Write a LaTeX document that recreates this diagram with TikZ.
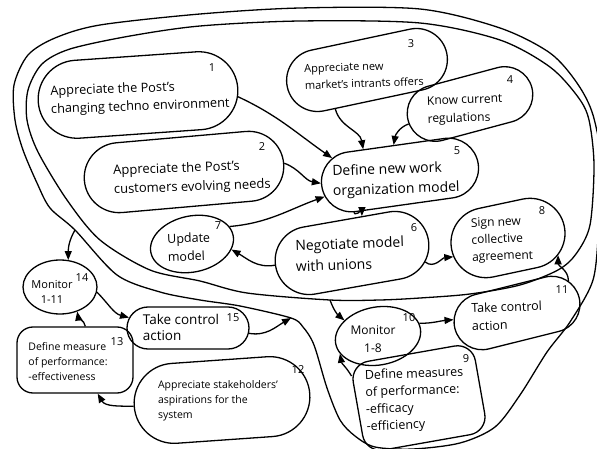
\documentclass[tikz,border=0pt]{standalone}
\usepackage{fontspec}
\setmainfont{Open Sans}
\usetikzlibrary{shapes.geometric,shapes.misc,arrows.meta}
\begin{document}
\begin{tikzpicture}[x=1pt,y=1pt,
  pill/.style={draw, line width=1.3pt, rounded rectangle, inner sep=0pt},
  egg/.style={draw, line width=1.3pt, ellipse, inner sep=0pt},
  boxy/.style={draw, line width=1.3pt, rectangle, rounded corners=18pt, inner sep=0pt},
  txt/.style={align=left, inner sep=0pt},
  num/.style={inner sep=0pt, font=\fontsize{11}{11}\selectfont},
  arr/.style={line width=1.3pt, -{Triangle[length=9pt,width=7pt]}},
  loopline/.style={line width=1.3pt},
]
\useasboundingbox (0,0) rectangle (597,-449);
\clip (0,0) rectangle (597,-449);
\fill[white] (0,0) rectangle (597,-449);

% loops
\coordinate (outA) at (75,-230);
\coordinate (outC) at (291,-318);
\coordinate (inB) at (330,-300);
\draw[loopline] plot[smooth cycle] coordinates {(14,-85) (28,-55) (55,-38) (100,-25) (200,-14) (300,-8) (420,-9) (500,-28) (550,-53) (577,-83) (593,-115) (603,-170) (599,-225) (593,-280) (570,-322) (547,-352) (520,-395) (495,-427) (460,-443) (413,-449) (375,-447) (355,-436) (340,-420) (327,-388) (314,-345) (303,-327) (291,-318) (240,-306) (200,-300) (160,-292) (117,-275) (75,-230) (50,-208) (37,-183) (23,-150) (15,-120)};
\draw[loopline] plot[smooth cycle] coordinates {(27,-120) (28,-90) (42,-64) (70,-49) (130,-36) (200,-26) (300,-21) (420,-23) (500,-40) (550,-67) (578,-97) (589,-120) (594,-165) (590,-225) (576,-254) (558,-270) (520,-285) (470,-294) (420,-298) (380,-300) (330,-300) (247,-293) (200,-281) (150,-270) (100,-240) (67,-200) (38,-152)};

% shapes
\node[pill, minimum width=200pt, minimum height=78pt, rotate=4] (n1) at (138,-95) {};
\node[pill, minimum width=200pt, minimum height=70pt, rotate=5] (n2) at (184,-172) {};
\node[pill, minimum width=163pt, minimum height=62pt, rotate=12] (n3) at (367,-70) {};
\node[pill, minimum width=128pt, minimum height=56pt, rotate=15] (n4) at (470,-104) {};
\node[pill, minimum width=158pt, minimum height=60pt, rotate=8] (n5) at (400,-175) {};
\node[pill, minimum width=155pt, minimum height=68pt, rotate=10] (n6) at (352,-253) {};
\node[egg, minimum width=84pt, minimum height=56pt, rotate=12] (n7) at (192,-244) {};
\node[pill, minimum width=115pt, minimum height=70pt, rotate=12] (n8) at (508,-238) {};
\node[boxy, minimum width=124pt, minimum height=90pt, rotate=10] (n9) at (419,-398) {};
\node[egg, minimum width=86pt, minimum height=58pt, rotate=10] (n10) at (378,-336) {};
\node[pill, minimum width=128pt, minimum height=56pt, rotate=14] (n11) at (517,-313) {};
\node[pill, minimum width=176pt, minimum height=80pt, rotate=4] (n12) at (222,-400) {};
\node[boxy, rounded corners=16pt, minimum width=116pt, minimum height=66pt] (n13) at (75,-360) {};
\node[egg, minimum width=74pt, minimum height=54pt] (n14) at (60,-287) {};
\node[pill, minimum width=122pt, minimum height=42pt] (n15) at (188,-328) {};

% texts
\node[txt, rotate=2, font=\fontsize{12.8}{18}\selectfont] (t1) at (140,-98) {Appreciate the Post's\\changing techno environment};
\node[txt, rotate=2, font=\fontsize{13}{19}\selectfont] (t2) at (192,-178) {Appreciate the Post's\\customers evolving needs};
\node[txt, rotate=2, font=\fontsize{11}{17}\selectfont] (t3) at (364,-75) {Appreciate new\\market's intrants offers};
\node[txt, rotate=2, font=\fontsize{12}{18}\selectfont] (t4) at (465,-110) {Know current\\regulations};
\node[txt, rotate=2, font=\fontsize{14}{20}\selectfont] (t5) at (396,-180) {Define new work\\organization model};
\node[txt, rotate=2, font=\fontsize{14}{21}\selectfont] (t6) at (350,-254) {Negotiate model\\with unions};
\node[txt, rotate=2, font=\fontsize{12.5}{18}\selectfont] (t7) at (189,-247) {Update\\model};
\node[txt, rotate=2, font=\fontsize{12}{17}\selectfont] (t8) at (502,-240) {Sign new\\collective\\agreement};
\node[txt, rotate=2, font=\fontsize{12.5}{17}\selectfont] (t9) at (415,-400) {Define measures\\of performance:\\-efficacy\\-efficiency};
\node[align=center, inner sep=0pt, font=\fontsize{12}{18}\selectfont] (t10) at (373,-339) {Monitor\\1-8};
\node[txt, rotate=2, font=\fontsize{12.5}{18}\selectfont] (t11) at (507,-316) {Take control\\action};
\node[txt, font=\fontsize{10.5}{15}\selectfont] (t12) at (218,-401) {Appreciate stakeholders'\\aspirations for the\\system};
\node[txt, font=\fontsize{10.5}{15}\selectfont] (t13) at (68,-362) {Define measure\\of performance:\\-effectiveness};
\node[align=center, inner sep=0pt, font=\fontsize{11}{15}\selectfont] (t14) at (52,-292) {Monitor\\1-11};
\node[txt, font=\fontsize{13.5}{16}\selectfont] (t15) at (181,-327) {Take control\\action};

% numbers
\node[num] (m1) at (212,-68) {1};
\node[num] (m2) at (262,-147) {2};
\node[num] (m3) at (411,-44) {3};
\node[num] (m4) at (510,-80) {4};
\node[num] (m5) at (457,-151) {5};
\node[num] (m6) at (414,-228) {6};
\node[num] (m7) at (218,-226) {7};
\node[num] (m8) at (542,-211) {8};
\node[num] (m9) at (466,-359) {9};
\node[num] (m10) at (409,-318) {10};
\node[num] (m11) at (562,-290) {11};
\node[num] (m12) at (298,-370) {12};
\node[num] (m13) at (117,-342) {13};
\node[num] (m14) at (82,-278) {14};
\node[num] (m15) at (233,-318) {15};

% connectors
\draw[arr] (n1.-5) to[out=-25,in=145] (n5.158);
\draw[arr] (n2.0) to[out=-20,in=170] (n5.178);
\draw[arr] (n7.13) to[out=5,in=200] (n5.188);
\draw[arr] (n3.219) to[out=-75,in=100] (n5.137);
\draw[arr] (n4.183) to[out=200,in=80] (n5.94);
\draw[arr] (n5.211) to[out=-90,in=90] (n6.65);
\draw[arr] (n6.179) to[out=190,in=-30] (n7.-20);
\draw[arr] (n6.-17.5) to[out=-40,in=185] (n8.187);
\draw[arr] (n11.18) to[out=90,in=-90] (n8.-31);
\draw[arr] (n10.7) to[out=0,in=185] (n11.172);
\draw[arr] (n9.152) to[out=120,in=-80] (n10.195);
\draw[arr] (inB) to[out=-70,in=140] (n10.145);
\draw[arr] (outA) to[out=-120,in=90] (n14.73.5);
\draw[arr] (n14.-8) to[out=-45,in=165] (n15.170.7);
\draw[arr] (n15.-5) to[out=-10,in=210] (outC);
\draw[arr] (n13.73) to[out=100,in=-80] (n14.-55);
\draw[arr] (n12.180.5) to[out=180,in=-60] (n13.-56);
\end{tikzpicture}
\end{document}
